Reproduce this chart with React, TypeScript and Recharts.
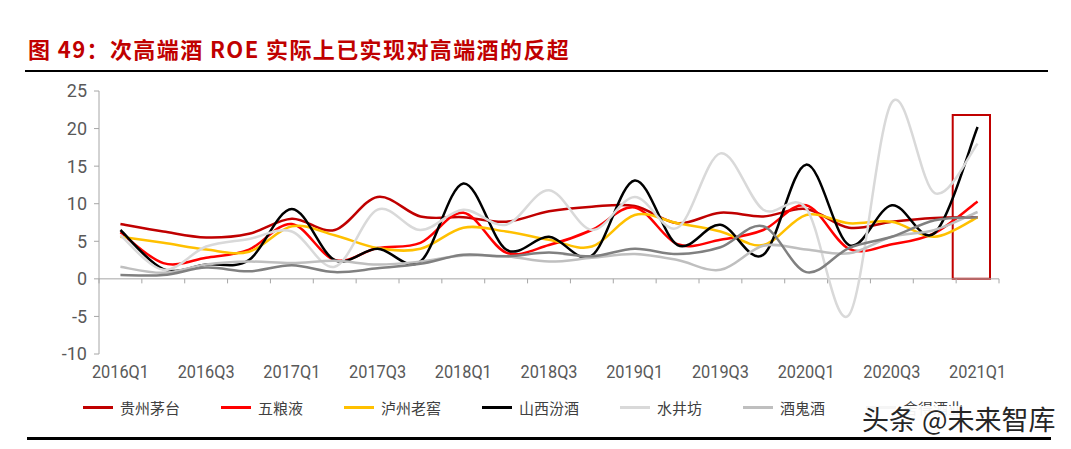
import React from "react";
import {
  LineChart,
  Line,
  XAxis,
  YAxis,
  ReferenceLine,
  ReferenceArea,
  Legend,
} from "recharts";

const quarters = [
  "2016Q1", "2016Q2", "2016Q3", "2016Q4",
  "2017Q1", "2017Q2", "2017Q3", "2017Q4",
  "2018Q1", "2018Q2", "2018Q3", "2018Q4",
  "2019Q1", "2019Q2", "2019Q3", "2019Q4",
  "2020Q1", "2020Q2", "2020Q3", "2020Q4",
  "2021Q1",
];

const moutai = [7.3, 6.3, 5.5, 6.0, 8.0, 6.5, 10.9, 8.3, 8.2, 7.6, 9.0, 9.6, 9.7, 7.4, 8.8, 8.3, 9.3, 6.8, 7.6, 8.1, 8.2];
const wuliangye = [6.2, 2.1, 2.8, 3.9, 7.3, 2.5, 4.1, 4.8, 8.8, 3.5, 4.5, 6.5, 9.5, 4.6, 5.2, 6.5, 9.8, 4.0, 4.6, 6.1, 10.3];
const luzhou = [5.6, 4.8, 3.9, 3.6, 7.0, 5.8, 4.1, 4.0, 6.8, 6.3, 5.2, 4.3, 8.5, 7.4, 6.3, 4.5, 8.5, 7.4, 7.6, 5.6, 8.2];
const fenjiu = [6.5, 1.3, 1.9, 2.5, 9.3, 2.5, 4.0, 2.3, 12.7, 3.9, 5.6, 3.1, 13.1, 4.5, 7.2, 3.2, 15.2, 4.5, 9.8, 6.1, 20.2];
const shuijingfang = [5.8, 1.2, 4.3, 5.3, 6.3, 1.6, 9.2, 6.5, 9.2, 7.2, 11.8, 6.5, 10.9, 6.8, 16.7, 9.2, 9.4, -4.8, 23.5, 11.4, 18.0];
const jiuguijiu = [1.6, 0.8, 1.9, 2.3, 2.1, 2.4, 1.9, 2.3, 3.1, 3.0, 2.3, 2.8, 3.3, 2.5, 1.2, 4.4, 3.9, 3.4, 5.6, 6.5, 8.9];
const shede = [0.5, 0.5, 1.5, 1.0, 1.8, 0.9, 1.4, 2.0, 3.2, 3.0, 3.5, 3.0, 4.0, 3.3, 4.2, 7.0, 0.9, 4.1, 5.6, 7.8, 8.2];

const yTicks = [-10, -5, 0, 5, 10, 15, 20, 25];
const xTicks = [0, 2, 4, 6, 8, 10, 12, 14, 16, 18, 20];

const series = [
  { name: "贵州茅台", values: moutai, color: "#C00000" },
  { name: "五粮液", values: wuliangye, color: "#FF0000" },
  { name: "泸州老窖", values: luzhou, color: "#FFC000" },
  { name: "山西汾酒", values: fenjiu, color: "#000000" },
  { name: "水井坊", values: shuijingfang, color: "#D9D9D9" },
  { name: "酒鬼酒", values: jiuguijiu, color: "#BFBFBF" },
  { name: "舍得酒业", values: shede, color: "#808080" },
];

const data = quarters.map((q, i) => {
  const row: Record<string, number | string> = { idx: i, q };
  series.forEach((s) => {
    row[s.name] = s.values[i];
  });
  return row;
});

// tick marks on the zero line sit between the quarters
const boundaries = [...quarters.map((_, i) => i - 0.5), quarters.length - 0.5];

// Excel-style smoothing: cubic Bezier with Catmull-Rom tangents
const smoothCurve = (context: any) => {
  let xs: number[] = [];
  let ys: number[] = [];
  return {
    areaStart() {},
    areaEnd() {},
    lineStart() {
      xs = [];
      ys = [];
    },
    point(x: number, y: number) {
      xs.push(+x);
      ys.push(+y);
    },
    lineEnd() {
      const n = xs.length;
      if (!n) return;
      context.moveTo(xs[0], ys[0]);
      for (let i = 1; i < n; i++) {
        const a = Math.max(i - 2, 0);
        const d = Math.min(i + 1, n - 1);
        context.bezierCurveTo(
          xs[i - 1] + (xs[i] - xs[a]) / 6,
          ys[i - 1] + (ys[i] - ys[a]) / 6,
          xs[i] - (xs[d] - xs[i - 1]) / 6,
          ys[i] - (ys[d] - ys[i - 1]) / 6,
          xs[i],
          ys[i]
        );
      }
    },
  };
};

const axisFont = "'Liberation Sans Narrow', 'Roboto', sans-serif";
const cjkFont = "'Noto Sans CJK SC', sans-serif";

// narrow quarter labels like the original
const QuarterTick = (props: any) => {
  const { x, y, payload } = props;
  return (
    <text
      x={x}
      y={y}
      dy="0.71em"
      textAnchor="middle"
      fontSize={18}
      fill="#595959"
      fontFamily={axisFont}
      textLength={57}
      lengthAdjust="spacingAndGlyphs"
    >
      {quarters[payload.value]}
    </text>
  );
};

const renderLegend = () => (
  <div style={{ display: "flex", alignItems: "center", paddingLeft: 83 }}>
    {series.map((s) => (
      <div
        key={s.name}
        style={{ display: "flex", alignItems: "center", marginRight: 41 }}
      >
        <span
          style={{
            display: "inline-block",
            width: 30,
            height: 3,
            background: s.color,
            marginRight: 7,
          }}
        />
        <span style={{ fontFamily: cjkFont, fontSize: 15, color: "#404040" }}>
          {s.name}
        </span>
      </div>
    ))}
  </div>
);

export default function App() {
  return (
    <div
      style={{
        position: "absolute",
        left: 0,
        top: 0,
        width: 1071,
        height: 449,
        background: "#fff",
        overflow: "hidden",
      }}
    >
      <div
        style={{
          position: "absolute",
          left: 28,
          top: 32,
          fontFamily: cjkFont,
          fontWeight: 700,
          fontSize: 22,
          color: "#C00000",
          whiteSpace: "nowrap",
          letterSpacing: 1.4,
        }}
      >
        图 49：次高端酒 ROE 实际上已实现对高端酒的反超
      </div>
      <div
        style={{
          position: "absolute",
          left: 25,
          top: 70,
          width: 1023,
          height: 2,
          background: "#000",
        }}
      />
      <LineChart
        width={1071}
        height={449}
        data={data}
        margin={{ top: 91, right: 72, bottom: 65, left: 59 }}
      >
        <XAxis
          type="number"
          dataKey="idx"
          domain={[-0.5, 20.5]}
          ticks={xTicks}
          interval={0}
          axisLine={false}
          tickLine={false}
          tickMargin={5}
          height={30}
          tick={<QuarterTick />}
        />
        <YAxis
          domain={[-10, 25]}
          ticks={yTicks}
          interval={0}
          width={40}
          tickSize={5}
          tickMargin={7}
          axisLine={{ stroke: "#A6A6A6" }}
          tickLine={{ stroke: "#A6A6A6" }}
          tick={{ fontSize: 18, fill: "#595959", fontFamily: axisFont }}
        />
        <ReferenceLine y={0} stroke="#A6A6A6" strokeWidth={1} />
        {boundaries.map((b) => (
          <ReferenceLine
            key={b}
            segment={[
              { x: b, y: 0 },
              { x: b, y: -0.6 },
            ]}
            stroke="#A6A6A6"
            strokeWidth={1}
          />
        ))}
        {series.map((s) => (
          <Line
            key={s.name}
            dataKey={s.name}
            name={s.name}
            type={smoothCurve as any}
            stroke={s.color}
            strokeWidth={2.5}
            dot={false}
            activeDot={false}
            isAnimationActive={false}
          />
        ))}
        <ReferenceArea
          x1={19.42}
          x2={20.29}
          y1={0}
          y2={21.8}
          fill="none"
          fillOpacity={0}
          stroke="#C00000"
          strokeWidth={2}
          ifOverflow="visible"
        />
        <Legend
          layout="horizontal"
          verticalAlign="middle"
          align="center"
          content={renderLegend}
          wrapperStyle={{ left: 0, top: 397, width: 1071 }}
        />
      </LineChart>
      <div
        style={{
          position: "absolute",
          left: 858,
          top: 406,
          width: 204,
          height: 28,
          background: "rgba(255,255,255,0.92)",
        }}
      />
      <div
        style={{
          position: "absolute",
          left: 862,
          top: 399,
          fontFamily: cjkFont,
          fontSize: 27,
          lineHeight: "40px",
          color: "#262626",
          whiteSpace: "nowrap",
        }}
      >
        头条 @未来智库
      </div>
      <div
        style={{
          position: "absolute",
          left: 27,
          top: 437,
          width: 1024,
          height: 3,
          background: "#000",
        }}
      />
    </div>
  );
}
